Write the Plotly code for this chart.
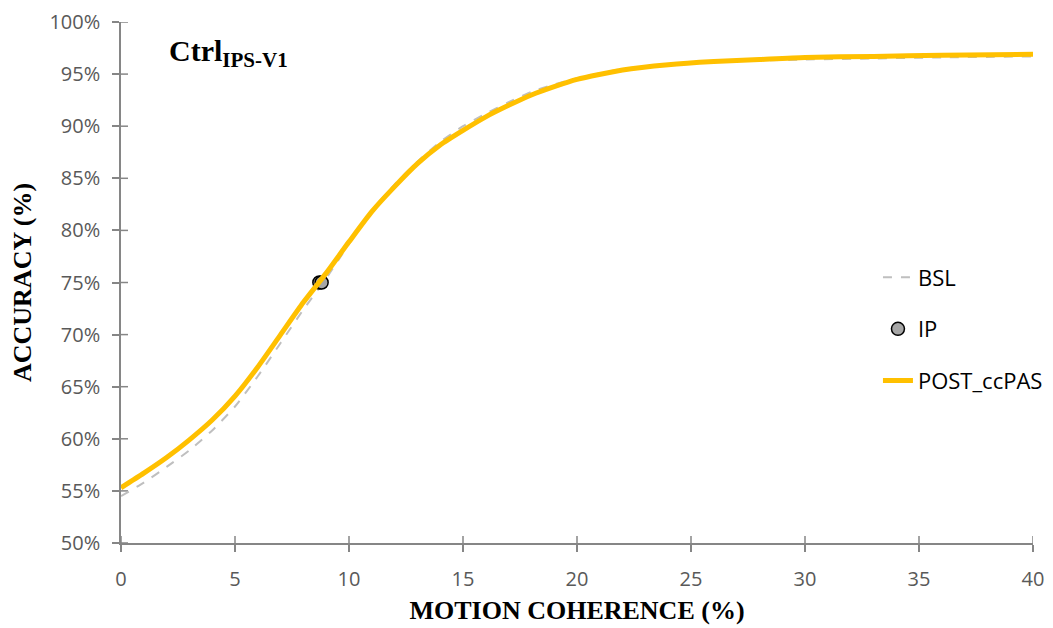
import plotly.graph_objects as go

coherence = [0, 1, 2, 3, 4, 5, 6, 7, 8, 9, 10, 11, 12, 13, 14, 15, 16, 17, 18, 19, 20, 22, 24, 26, 28, 30, 33, 36, 40]
bsl = [54.5, 55.8, 57.3, 58.9, 60.8, 63.1, 66.0, 69.2, 72.4, 75.4, 78.7, 81.9, 84.4, 86.6, 88.5, 90.0, 91.2,
       92.3, 93.3, 94.0, 94.6, 95.5, 95.9, 96.2, 96.3, 96.4, 96.5, 96.6, 96.7]
post = [55.3, 56.7, 58.2, 59.9, 61.8, 64.1, 66.9, 70.0, 73.1, 75.9, 78.9, 81.8, 84.2, 86.4, 88.2, 89.6, 90.9,
        92.0, 93.0, 93.8, 94.5, 95.4, 95.9, 96.2, 96.4, 96.6, 96.7, 96.8, 96.9]
ip_x = [8.7, 8.8]
ip_y = [75, 75]

x_ticks = [0, 5, 10, 15, 20, 25, 30, 35, 40]
y_ticks = [50, 55, 60, 65, 70, 75, 80, 85, 90, 95, 100]
y_labels = [f"{v}%" for v in y_ticks]

AXIS_COLOR = "#868686"

fig = go.Figure()
fig.add_trace(go.Scatter(x=coherence, y=bsl, mode="lines", name="BSL", legendgroup="a",
                         line=dict(color="#BFBFBF", width=2, dash="dash", shape="spline", smoothing=0.6)))
fig.add_trace(go.Scatter(x=ip_x, y=ip_y, mode="markers", name="IP", legendgroup="b",
                         marker=dict(color="#A6A6A6", size=13, line=dict(color="black", width=1.5))))
fig.add_trace(go.Scatter(x=coherence, y=post, mode="lines", name="POST_ccPAS", legendgroup="c",
                         line=dict(color="#FFC000", width=5, shape="spline", smoothing=0.6)))

# inner halves of the crossing tick marks
shapes = []
for t in x_ticks:
    shapes.append(dict(type="line", xref="x", yref="y", ysizemode="pixel", yanchor=50,
                       x0=t, x1=t, y0=0, y1=7, line=dict(color=AXIS_COLOR, width=1.5), layer="below"))
for t in y_ticks:
    shapes.append(dict(type="line", xref="x", yref="y", xsizemode="pixel", xanchor=0,
                       y0=t, y1=t, x0=0, x1=7, line=dict(color=AXIS_COLOR, width=1.5), layer="below"))

tickfont = dict(family="Open Sans", size=20, color="#595959")
titlefont = dict(family="Liberation Serif", size=26, color="black")

fig.update_layout(
    width=1053, height=628,
    margin=dict(l=121, r=20, t=22, b=85, autoexpand=False),
    plot_bgcolor="white", paper_bgcolor="white",
    showlegend=True,
    xaxis=dict(range=[0, 40], tickmode="array", tickvals=x_ticks, ticktext=[str(v) for v in x_ticks],
               ticks="outside", ticklen=7, tickwidth=1.5, ticklabelstandoff=10, automargin=False,
               tickcolor=AXIS_COLOR, showline=True, linecolor=AXIS_COLOR, linewidth=1.5,
               showgrid=False, zeroline=False, tickfont=tickfont,
               title=dict(text="<b>MOTION COHERENCE (%)</b>", font=titlefont, standoff=10)),
    yaxis=dict(range=[50, 100], tickmode="array", tickvals=y_ticks, ticktext=y_labels,
               ticks="outside", ticklen=7, tickwidth=1.5, ticklabelstandoff=8, automargin=False,
               tickcolor=AXIS_COLOR, showline=True, linecolor=AXIS_COLOR, linewidth=1.5,
               showgrid=False, zeroline=False, tickfont=tickfont,
               title=dict(text="<b>ACCURACY (%)</b>", font=titlefont, standoff=10)),
    legend=dict(x=0.83, y=0.55, xanchor="left", yanchor="top", tracegroupgap=20,
                font=dict(family="Open Sans", size=22, color="black"),
                bgcolor="rgba(0,0,0,0)"),
    shapes=shapes,
    annotations=[dict(text="<b>Ctrl<sub>IPS-V1</sub></b>", xref="paper", yref="paper",
                      x=0.05, y=0.94, xanchor="left", yanchor="middle", showarrow=False,
                      font=dict(family="Liberation Serif", size=30, color="black"))],
)

fig.write_html("out.html")
